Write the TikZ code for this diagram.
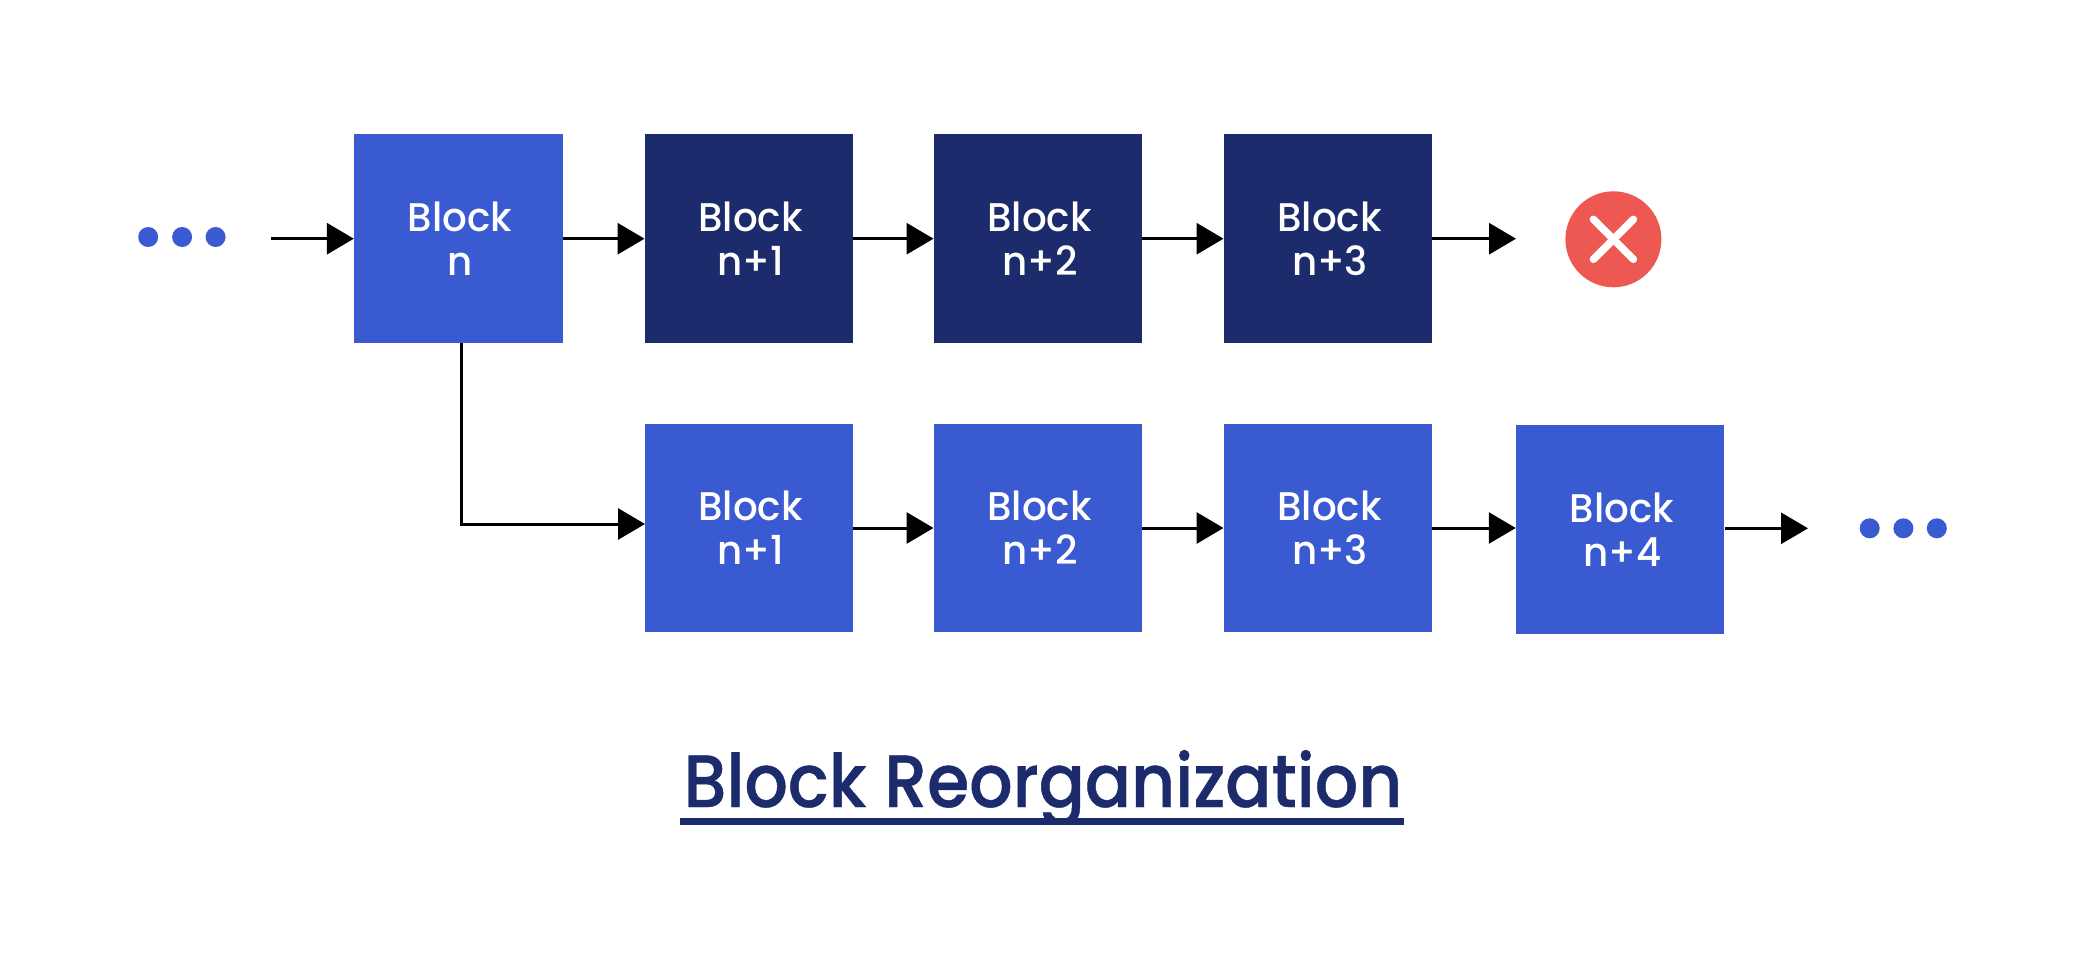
\documentclass[tikz,border=0pt]{standalone}
\usepackage{fontspec}
\setmainfont{Poppins Medium}[FakeStretch=0.97]
\newfontfamily\titlefont{Poppins Medium}[FakeStretch=0.92,FakeBold=0.6]
\usetikzlibrary{arrows.meta}
\definecolor{bluebox}{HTML}{3A5AD2}
\definecolor{darkbox}{HTML}{1B2B6B}
\definecolor{redmark}{HTML}{ED5852}
\newcommand{\blocklabel}[1]{\hspace*{3pt}Block\\\hspace*{4pt}#1}
\tikzset{
  blockbox/.style={draw=none,minimum width=208.5pt,minimum height=208.5pt,inner sep=0pt,text=white,align=center,
    font=\fontsize{40}{44}\selectfont},
  bluefill/.style={blockbox,fill=bluebox},
  darkfill/.style={blockbox,fill=darkbox},
  conn/.style={draw=black,line width=3pt,-{Triangle[width=31pt,length=27pt]}},
  elbow/.style={conn,rounded corners=0pt},
  dot/.style={circle,fill=bluebox,minimum size=20pt,inner sep=0pt},
}
\begin{document}
\begin{tikzpicture}[x=1pt,y=-1pt]
\useasboundingbox[fill=white] (0,0) rectangle (2085,959);
% top row
\node[bluefill] (bn) at (458.3,238.7) {\blocklabel{n}};
\node[darkfill] (t1) at (749,238.7) {\blocklabel{n+1}};
\node[darkfill] (t2) at (1038,238.7) {\blocklabel{n+2}};
\node[darkfill] (t3) at (1328,238.7) {\blocklabel{n+3}};
% bottom row
\node[bluefill] (u1) at (749,528) {\blocklabel{n+1}};
\node[bluefill] (u2) at (1038,528) {\blocklabel{n+2}};
\node[bluefill] (u3) at (1328,528) {\blocklabel{n+3}};
\node[bluefill] (u4) at (1620.2,529.3) {\blocklabel{n+4}};
% dots
\node[dot] (da) at (148.2,237) {};
\node[dot] (db) at (182.1,237) {};
\node[dot] (dc) at (215.6,237) {};
\node[dot] (de) at (1869.7,528.3) {};
\node[dot] (df) at (1903.4,528.3) {};
\node[dot] (dg) at (1936.8,528.3) {};
% reject mark
\node[circle,fill=redmark,minimum size=96pt,inner sep=0pt] (rej) at (1613.4,239.3) {};
\draw[white,line width=7.5pt,line cap=round] ([shift={(-20,-20)}]rej.center) -- ([shift={(20,20)}]rej.center);
\draw[white,line width=7.5pt,line cap=round] ([shift={(20,-20)}]rej.center) -- ([shift={(-20,20)}]rej.center);
% connectors
\coordinate (start) at (270.5,238.7);
\coordinate (stop) at (1516,238.7);
\coordinate (end) at (1808,528.3);
\coordinate (fork) at (461,343);
\coordinate (entry) at (645,524);
\draw[conn] (start) -- (bn);
\draw[conn] (bn) -- (t1);
\draw[conn] (t1) -- (t2);
\draw[conn] (t2) -- (t3);
\draw[conn] (t3) -- (stop);
\draw[elbow] (fork) |- (entry);
\draw[conn] (u1) -- (u2);
\draw[conn] (u2) -- (u3);
\draw[conn] (u3.east) -- (u4.west |- u3.east);
\draw[conn] (u4.east |- end) -- (end);
% title
\begin{scope}
\clip (0,0) rectangle (2085,824.7);
\node[anchor=base,text=darkbox,font=\titlefont\fontsize{74}{80}\selectfont,inner sep=0pt] (title) at (1043,807) {Block Reorganization};
\end{scope}
\fill[darkbox] (680,818) rectangle (1404,824.7);
\end{tikzpicture}
\end{document}
